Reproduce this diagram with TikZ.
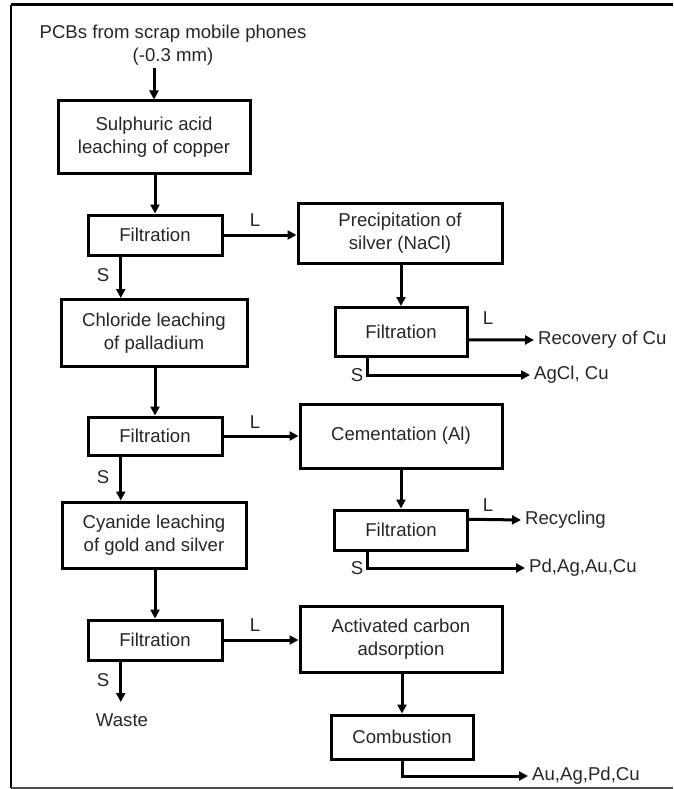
\documentclass[tikz,border=0pt]{standalone}
\usepackage{fontspec}
\setmainfont{Liberation Sans}
\usetikzlibrary{arrows.meta,calc}
\definecolor{txt}{HTML}{262626}
\begin{document}
\begin{tikzpicture}[x=1pt,y=-1pt,
  every node/.style={font=\fontsize{18.6}{23.5}\selectfont, text=txt},
  procbox/.style={draw=black, line width=3pt, rectangle, align=center, inner sep=0pt, fill=white},
  arr/.style={line width=3pt, -{Triangle[length=9pt,width=9pt]}},
  lbl/.style={inner sep=0pt},
  outtxt/.style={anchor=west, inner sep=4pt}]
\useasboundingbox (0,0) rectangle (673,789);
% frame
\draw[line width=3pt] (11,5) -- (673,5);
\draw[line width=2pt] (11,5) -- (11,788);
\draw[line width=1.5pt, black!70] (11,788) -- (673,788);

% title
\node[align=center, inner sep=2pt] (title) at (173,45) {PCBs from scrap mobile phones\\(-0.3 mm)};

% left column
\node[procbox, minimum width=192pt, minimum height=72pt] (b1) at (154,137) {Sulphuric acid\\leaching of copper};
\node[procbox, minimum width=134pt, minimum height=40pt] (f1) at (155,235) {Filtration};
\node[procbox, minimum width=186pt, minimum height=67pt] (b2) at (154,333) {Chloride leaching\\of palladium};
\node[procbox, minimum width=134pt, minimum height=38pt] (f3) at (155,436) {Filtration};
\node[procbox, minimum width=184pt, minimum height=66pt] (b3) at (154,535) {Cyanide leaching\\of gold and silver};
\node[procbox, minimum width=134pt, minimum height=40pt] (f5) at (155,640) {Filtration};
\node[anchor=north, inner xsep=3pt, inner ysep=11pt] (waste) at (122,702) {Waste};

% right column
\node[procbox, minimum width=204pt, minimum height=60pt] (p1) at (400,233) {Precipitation of\\silver (NaCl)};
\node[procbox, minimum width=132pt, minimum height=49pt] (f2) at (401,332) {Filtration};
\node[procbox, minimum width=202pt, minimum height=64pt] (c1) at (401,436) {Cementation (Al)};
\node[procbox, minimum width=133pt, minimum height=40pt] (f4) at (401,530) {Filtration};
\node[procbox, minimum width=202pt, minimum height=66pt] (a1) at (401,639) {Activated carbon\\adsorption};
\node[procbox, minimum width=142pt, minimum height=44pt] (cb) at (402,737) {Combustion};

% output texts
\node[outtxt] (rec) at (534,340) {Recovery of Cu};
\node[outtxt] (agcl) at (530,375) {AgCl, Cu};
\node[outtxt] (recy) at (521,520) {Recycling};
\node[outtxt] (pd) at (525,568) {Pd,Ag,Au,Cu};
\node[outtxt] (au) at (528,776) {Au,Ag,Pd,Cu};

% helper coordinates
\coordinate (s1) at ($(f1.south west)!0.25!(f1.south east)$);
\coordinate (s3) at ($(f3.south west)!0.25!(f3.south east)$);
\coordinate (s5) at ($(f5.south west)!0.25!(f5.south east)$);
\coordinate (s2) at ($(f2.south west)!0.25!(f2.south east)$);
\coordinate (s4) at ($(f4.south west)!0.25!(f4.south east)$);
\coordinate (l2) at ($(f2.north east)!0.65!(f2.south east)$);
\coordinate (l4) at ($(f4.north east)!0.25!(f4.south east)$);

% left column connectors
\draw[arr] (title.south -| b1.north) -- (b1.north);
\draw[arr] (b1.south -| f1.north) -- (f1.north);
\draw[arr] (s1) -- (s1 |- b2.north);
\draw[arr] (b2.south -| f3.north) -- (f3.north);
\draw[arr] (s3) -- (s3 |- b3.north);
\draw[arr] (b3.south -| f5.north) -- (f5.north);
\draw[arr] (s5) -- (s5 |- waste.north);

% L connectors to right column
\draw[arr] (f1.east) -- (f1.east -| p1.west);
\draw[arr] (f3.east) -- (f3.east -| c1.west);
\draw[arr] (f5.east) -- (f5.east -| a1.west);

% right column connectors
\draw[arr] (p1.south -| f2.north) -- (f2.north);
\draw[arr] (c1.south -| f4.north) -- (f4.north);
\draw[arr] (a1.south -| cb.north) -- (cb.north);
\draw[arr] (l2) -- (rec.west);
\draw[arr] (s2) |- (agcl.west);
\draw[arr] (l4) -- (recy.west);
\draw[arr] (s4) |- (pd.west);
\draw[arr] (cb.south) |- (au.west);

% L / S labels
\node[lbl] (L1) at (255,220) {L};
\node[lbl] (L3) at (255,422) {L};
\node[lbl] (L5) at (255,625) {L};
\node[lbl] (L2) at (488,318) {L};
\node[lbl] (L4) at (488,505) {L};
\node[lbl] (S1) at (103,275) {S};
\node[lbl] (S3) at (103,477) {S};
\node[lbl] (S5) at (103,680) {S};
\node[lbl] (S2) at (357,375) {S};
\node[lbl] (S4) at (357,568) {S};
\end{tikzpicture}
\end{document}
